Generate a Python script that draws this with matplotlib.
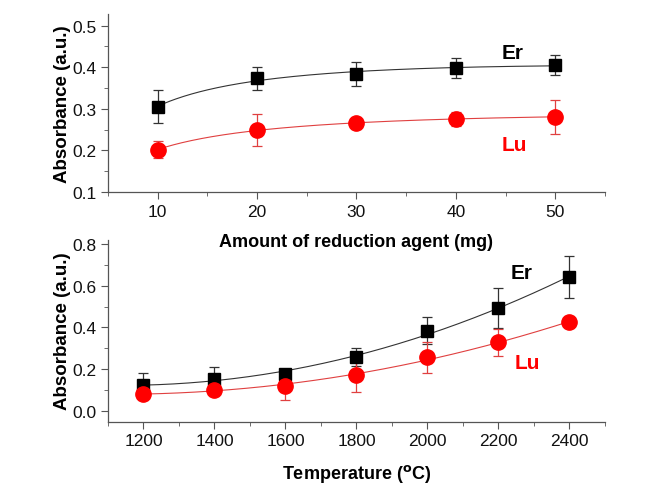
import numpy as np
import matplotlib
matplotlib.use("Agg")
import matplotlib.pyplot as plt
from matplotlib.ticker import MultipleLocator

plt.rcParams['font.family'] = ['Liberation Sans', 'DejaVu Sans']

# top panel: amount of reduction agent
amount = [10, 20, 30, 40, 50]
er_amount = [0.305, 0.373, 0.384, 0.398, 0.406]
er_amount_err = [0.040, 0.028, 0.029, 0.024, 0.024]
lu_amount = [0.202, 0.249, 0.265, 0.276, 0.281]
lu_amount_err = [0.021, 0.038, 0.010, 0.017, 0.041]

# bottom panel: temperature
temp = [1200, 1400, 1600, 1800, 2000, 2200, 2400]
er_temp = [0.125, 0.155, 0.178, 0.258, 0.385, 0.493, 0.640]
er_temp_err = [0.058, 0.056, 0.020, 0.042, 0.065, 0.095, 0.100]
lu_temp = [0.083, 0.102, 0.120, 0.173, 0.258, 0.329, 0.425]
lu_temp_err = [0.020, 0.015, 0.067, 0.079, 0.075, 0.065, 0.010]

RED = '#ff0000'
SPINE = '#555555'


def style_axes(ax):
    for s in ['top', 'right']:
        ax.spines[s].set_visible(False)
    for s in ['left', 'bottom']:
        ax.spines[s].set_color(SPINE)
        ax.spines[s].set_linewidth(0.9)
    ax.tick_params(which='both', direction='out', colors=SPINE, labelcolor='#111111',
                   labelsize=12.5)
    ax.tick_params(which='major', length=5)
    ax.tick_params(which='minor', length=3)
    ax.patch.set_visible(False)


def draw_series(ax, x, y, err, color, line_color, marker, ms, deg, logx=False):
    # smooth fit curve through the measured points
    xf = np.log(x) if logx else np.asarray(x, float)
    coef = np.polyfit(xf, y, deg)
    xs = np.linspace(min(x), max(x), 200)
    xsf = np.log(xs) if logx else xs
    ax.plot(xs, np.polyval(coef, xsf), color=line_color, lw=0.8, zorder=2)
    ax.errorbar(x, y, yerr=err, fmt='none', ecolor=line_color, elinewidth=0.9,
                capsize=3.5, capthick=0.9, zorder=3)
    ax.plot(x, y, linestyle='none', marker=marker, ms=ms, color=color, zorder=4)


fig = plt.figure(figsize=(6.6, 4.89), dpi=100)
ax2 = fig.add_axes([0.1636, 0.1356, 0.7530, 0.3725])
ax1 = fig.add_axes([0.1636, 0.6053, 0.7530, 0.3640])

draw_series(ax1, amount, er_amount, er_amount_err, 'black', '#333333', 's', 9, 2, logx=True)
draw_series(ax1, amount, lu_amount, lu_amount_err, RED, '#e04040', 'o', 11, 2, logx=True)
ax1.set_xlim(5, 55)
ax1.set_ylim(0.1, 0.528)
ax1.xaxis.set_major_locator(MultipleLocator(10))
ax1.xaxis.set_minor_locator(MultipleLocator(5))
ax1.yaxis.set_major_locator(MultipleLocator(0.1))
ax1.yaxis.set_minor_locator(MultipleLocator(0.05))
style_axes(ax1)
ax1.set_xlabel('Amount of reduction agent (mg)', fontsize=13, fontweight='bold', labelpad=10)
ax1.set_ylabel('Absorbance (a.u.)', fontsize=13.5, fontweight='bold', labelpad=1)
ax1.text(44.6, 0.423, 'Er', fontsize=15, fontweight='bold', color='black')
ax1.text(44.6, 0.200, 'Lu', fontsize=15, fontweight='bold', color=RED)

draw_series(ax2, temp, er_temp, er_temp_err, 'black', '#333333', 's', 9, 2)
draw_series(ax2, temp, lu_temp, lu_temp_err, RED, '#e04040', 'o', 11, 2)
ax2.set_xlim(1100, 2500)
ax2.set_ylim(-0.05, 0.82)
ax2.xaxis.set_major_locator(MultipleLocator(200))
ax2.xaxis.set_minor_locator(MultipleLocator(100))
ax2.yaxis.set_major_locator(MultipleLocator(0.2))
ax2.yaxis.set_minor_locator(MultipleLocator(0.1))
style_axes(ax2)
ax2.set_xlabel('Temperature ($^{\\mathbf{o}}$C)', fontsize=13, fontweight='bold', labelpad=10)
ax2.set_ylabel('Absorbance (a.u.)', fontsize=13.5, fontweight='bold', labelpad=1)
ax2.text(2235, 0.635, 'Er', fontsize=15, fontweight='bold', color='black')
ax2.text(2245, 0.205, 'Lu', fontsize=15, fontweight='bold', color=RED)

fig.savefig('out.png', dpi=100)
